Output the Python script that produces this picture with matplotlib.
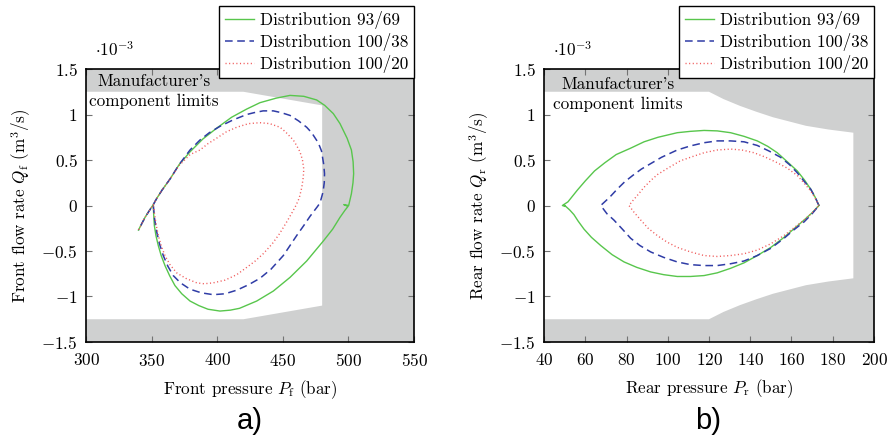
import numpy as np
import matplotlib
matplotlib.use("Agg")
import matplotlib.pyplot as plt

plt.rcParams['font.family'] = ['cmr10', 'DejaVu Serif']
plt.rcParams['mathtext.fontset'] = 'cm'
plt.rcParams['axes.formatter.use_mathtext'] = True

# ---------------- data (Q in 1e-3 m^3/s) ----------------
# front axle, panel a)
pf_93 = [351.3, 351.6, 352.1, 353.3, 355.1, 357.3, 360.2, 363.7, 367.8, 373.0, 379.3, 386.0, 393.0,
         402.1, 410.0, 417.0, 430.1, 442.8, 455.5, 468.2, 480.9, 488.0, 493.6, 497.5, 499.7, 496.5,
         500.2, 502.3, 503.5, 504.0, 503.6, 502.3, 499.0, 493.6, 488.5, 482.0, 475.8, 466.0, 455.5,
         445.0, 432.6, 422.5, 411.0, 399.6, 389.0, 379.3, 371.0, 364.0, 358.0, 354.0, 351.3, 348.0,
         345.0, 342.5, 340.0]
qf_93 = [0.00, -0.10, -0.22, -0.33, -0.44, -0.55, -0.66, -0.77, -0.88, -0.97, -1.05, -1.10, -1.14,
         -1.16, -1.15, -1.13, -1.05, -0.94, -0.79, -0.61, -0.39, -0.26, -0.13, -0.05, -0.01, 0.01,
         0.00, 0.13, 0.25, 0.35, 0.48, 0.61, 0.74, 0.90, 1.01, 1.10, 1.16, 1.20, 1.21,
         1.18, 1.13, 1.06, 0.97, 0.85, 0.73, 0.59, 0.45, 0.29, 0.17, 0.08, 0.01, -0.06,
         -0.13, -0.20, -0.27]

pf_38 = [351.3, 352.3, 353.9, 356.0, 358.9, 362.5, 366.5, 372.0, 379.3, 388.0, 397.0, 406.0, 415.0,
         424.0, 432.6, 441.0, 450.4, 460.6, 466.0, 470.7, 476.5, 478.4, 480.7, 481.6, 481.8, 481.2,
         479.5, 477.0, 472.0, 468.2, 462.0, 455.5, 449.0, 442.8, 435.0, 428.0, 422.5, 412.0, 402.1,
         394.0, 386.9, 379.3, 371.0, 364.0, 358.0, 354.0, 351.3, 345.0, 340.0]
qf_38 = [0.00, -0.15, -0.29, -0.42, -0.55, -0.67, -0.77, -0.85, -0.92, -0.96, -0.98, -0.97, -0.93,
         -0.87, -0.80, -0.70, -0.55, -0.33, -0.22, -0.12, -0.01, 0.03, 0.15, 0.25, 0.35, 0.45,
         0.60, 0.69, 0.80, 0.86, 0.93, 0.99, 1.02, 1.04, 1.04, 1.02, 1.00, 0.94, 0.87,
         0.80, 0.72, 0.61, 0.45, 0.29, 0.17, 0.08, 0.01, -0.13, -0.27]

pf_20 = [351.3, 352.5, 353.6, 355.1, 357.5, 360.2, 364.0, 369.1, 376.0, 384.4, 390.0, 397.0, 406.0,
         414.9, 422.5, 429.0, 435.1, 442.0, 447.5, 453.0, 457.0, 460.0, 462.5, 464.5, 465.6, 466.0,
         465.0, 463.1, 460.5, 458.0, 452.0, 447.9, 440.0, 432.6, 424.0, 414.9, 407.0, 399.6, 393.0,
         386.9, 379.3, 371.0, 364.0, 358.0, 354.0, 351.3, 345.0, 340.0]
qf_20 = [0.00, -0.12, -0.22, -0.33, -0.45, -0.55, -0.65, -0.74, -0.80, -0.85, -0.86, -0.85, -0.82,
         -0.76, -0.68, -0.61, -0.53, -0.42, -0.31, -0.18, -0.08, 0.00, 0.08, 0.20, 0.31, 0.40,
         0.50, 0.59, 0.66, 0.72, 0.81, 0.86, 0.90, 0.91, 0.90, 0.86, 0.81, 0.74, 0.68,
         0.61, 0.56, 0.44, 0.29, 0.17, 0.08, 0.01, -0.13, -0.27]

# rear axle, panel b)
pr_93 = [173.3, 171.5, 169.3, 166.3, 162.8, 158.0, 153.1, 148.5, 143.4, 137.0, 130.5, 124.0, 117.6,
         111.0, 104.6, 95.3, 88.5, 82.0, 75.0, 69.5, 64.5, 60.0, 56.2, 51.6, 48.9, 50.2, 49.6,
         52.5, 54.5, 56.5, 59.4, 63.0, 67.5, 73.0, 78.8, 85.0, 91.7, 98.0, 104.6, 111.0, 117.6,
         124.0, 130.5, 137.0, 143.4, 150.0, 156.4, 161.0, 166.1, 170.0, 173.3]
qr_93 = [0.00, 0.09, 0.18, 0.28, 0.38, 0.48, 0.58, 0.65, 0.71, 0.76, 0.80, 0.82, 0.825,
         0.815, 0.80, 0.75, 0.70, 0.63, 0.56, 0.47, 0.38, 0.27, 0.17, 0.04, 0.00, -0.01, 0.01,
         -0.05, -0.10, -0.17, -0.26, -0.35, -0.44, -0.54, -0.62, -0.68, -0.73, -0.76, -0.78, -0.78, -0.77,
         -0.74, -0.69, -0.63, -0.55, -0.46, -0.35, -0.26, -0.16, -0.08, 0.00]

pr_38 = [173.3, 171.5, 169.3, 166.0, 162.8, 159.0, 154.7, 149.0, 143.4, 137.0, 130.5, 124.0, 117.6,
         111.0, 104.6, 97.0, 91.7, 87.2, 83.0, 79.1, 75.5, 71.8, 67.5,
         70.5, 73.9, 78.0, 82.0, 86.5, 91.7, 98.0, 104.6, 111.0, 117.6, 124.0, 130.5, 137.0, 143.4,
         150.0, 156.4, 161.0, 166.1, 170.0, 173.3]
qr_38 = [0.00, 0.09, 0.18, 0.27, 0.36, 0.45, 0.53, 0.60, 0.66, 0.70, 0.71, 0.71, 0.69,
         0.655, 0.61, 0.53, 0.46, 0.40, 0.33, 0.26, 0.18, 0.09, 0.00,
         -0.09, -0.16, -0.26, -0.36, -0.44, -0.51, -0.57, -0.62, -0.65, -0.66, -0.66, -0.64, -0.61, -0.55,
         -0.47, -0.36, -0.27, -0.18, -0.09, 0.00]

pr_20 = [173.3, 171.5, 169.3, 166.0, 162.8, 158.0, 153.1, 147.5, 141.8, 136.0, 130.5, 124.0, 117.6,
         111.0, 106.0, 100.0, 95.0, 92.0, 88.5, 85.6, 83.3, 81.2,
         83.5, 86.9, 90.5, 94.9, 99.5, 104.6, 111.0, 117.6, 124.0, 130.5, 137.0, 143.4, 150.0,
         156.4, 161.5, 166.1, 170.0, 173.3]
qr_20 = [0.00, 0.08, 0.16, 0.25, 0.33, 0.41, 0.47, 0.53, 0.58, 0.61, 0.62, 0.61, 0.58,
         0.53, 0.49, 0.41, 0.34, 0.28, 0.20, 0.12, 0.06, 0.00,
         -0.07, -0.16, -0.25, -0.33, -0.40, -0.46, -0.51, -0.55, -0.56, -0.55, -0.53, -0.49, -0.42,
         -0.33, -0.24, -0.16, -0.08, 0.00]

# manufacturer's component limits (upper edge, mirrored for lower edge)
pf_lim = [300, 420, 480]
qf_lim = [1.25, 1.25, 1.10]
pr_lim = [40, 120, 127, 135, 143, 151, 167, 178, 190]
qr_lim = [1.25, 1.25, 1.17, 1.095, 1.03, 0.97, 0.876, 0.835, 0.80]

labels = ["Distribution 93/69", "Distribution 100/38", "Distribution 100/20"]
y_ticks = [-1.5, -1, -0.5, 0, 0.5, 1, 1.5]
y_ticklabels = [r"$-1.5$", r"$-1$", r"$-0.5$", r"$0$", r"$0.5$", r"$1$", r"$1.5$"]
xf_ticks = [300, 350, 400, 450, 500, 550]
xr_ticks = [40, 60, 80, 100, 120, 140, 160, 180, 200]

GRAY = '#cfd0d0'
GREEN = '#58c64c'
BLUE = '#2f3ca6'
RED = '#f05a5a'
FS = 12.3


def draw_panel(ax, p_lim, q_lim, curves, xlim, xticks, xlabel, ylabel, text_xy):
    ax.set_facecolor(GRAY)
    edge_p = list(p_lim) + list(p_lim[::-1])
    edge_q = list(q_lim) + [-q for q in q_lim[::-1]]
    ax.fill(edge_p, edge_q, color='white', lw=0, zorder=0)

    (p1, q1), (p2, q2), (p3, q3) = curves
    ax.plot(p1, q1, color=GREEN, lw=1.0, label=labels[0])
    ax.plot(p2, q2, color=BLUE, lw=1.1, dashes=(5, 3), label=labels[1])
    ax.plot(p3, q3, color=RED, lw=1.0, dashes=(0.8, 1.8), label=labels[2])

    ax.set_xlim(*xlim)
    ax.set_ylim(-1.5, 1.5)
    ax.set_xticks(xticks)
    ax.set_xticklabels([rf"${t}$" for t in xticks])
    ax.set_yticks(y_ticks)
    ax.set_yticklabels(y_ticklabels)
    ax.tick_params(direction='in', length=4, width=0.8, color='0.45',
                   top=True, right=True, labelsize=FS)
    ax.tick_params(axis='x', pad=7)
    ax.tick_params(axis='y', pad=6)
    for s in ax.spines.values():
        s.set_linewidth(1.2)
    ax.set_xlabel(xlabel, fontsize=FS, labelpad=7)
    ax.set_ylabel(ylabel, fontsize=FS, labelpad=6)

    ax.text(0.026, 1.07, r"$\cdot 10^{-3}$", transform=ax.transAxes,
            fontsize=FS, ha='left', va='center')
    ax.text(text_xy[0], text_xy[1], "Manufacturer's\ncomponent limits",
            fontsize=FS, ha='center', va='center', multialignment='center',
            linespacing=1.35)

    leg = ax.legend(loc='upper right', bbox_to_anchor=(1.0, 1.232), borderaxespad=0,
                    fontsize=FS, fancybox=False, framealpha=1, edgecolor='black',
                    handlelength=1.7, handletextpad=0.4, borderpad=0.3,
                    labelspacing=0.25)
    leg.get_frame().set_linewidth(1.0)
    leg.set_zorder(10)


fig = plt.figure(figsize=(8.93, 4.41), dpi=100)
ax1 = fig.add_axes([0.0963, 0.2245, 0.3673, 0.619])
ax2 = fig.add_axes([0.6092, 0.2245, 0.3695, 0.619])

draw_panel(ax1, pf_lim, qf_lim,
           [(pf_93, qf_93), (pf_38, qf_38), (pf_20, qf_20)],
           (300, 550), xf_ticks,
           r"Front pressure $P_\mathrm{f}$ (bar)",
           r"Front flow rate $Q_\mathrm{f}$ (m$^3$/s)",
           (352, 1.255))
draw_panel(ax2, pr_lim, qr_lim,
           [(pr_93, qr_93), (pr_38, qr_38), (pr_20, qr_20)],
           (40, 200), xr_ticks,
           r"Rear pressure $P_\mathrm{r}$ (bar)",
           r"Rear flow rate $Q_\mathrm{r}$ (m$^3$/s)",
           (76, 1.225))

fig.text(0.28, 0.045, "a)", fontsize=21, family='Liberation Sans', ha='center', va='center')
fig.text(0.793, 0.045, "b)", fontsize=21, family='Liberation Sans', ha='center', va='center')

fig.savefig("out.png", dpi=100)
